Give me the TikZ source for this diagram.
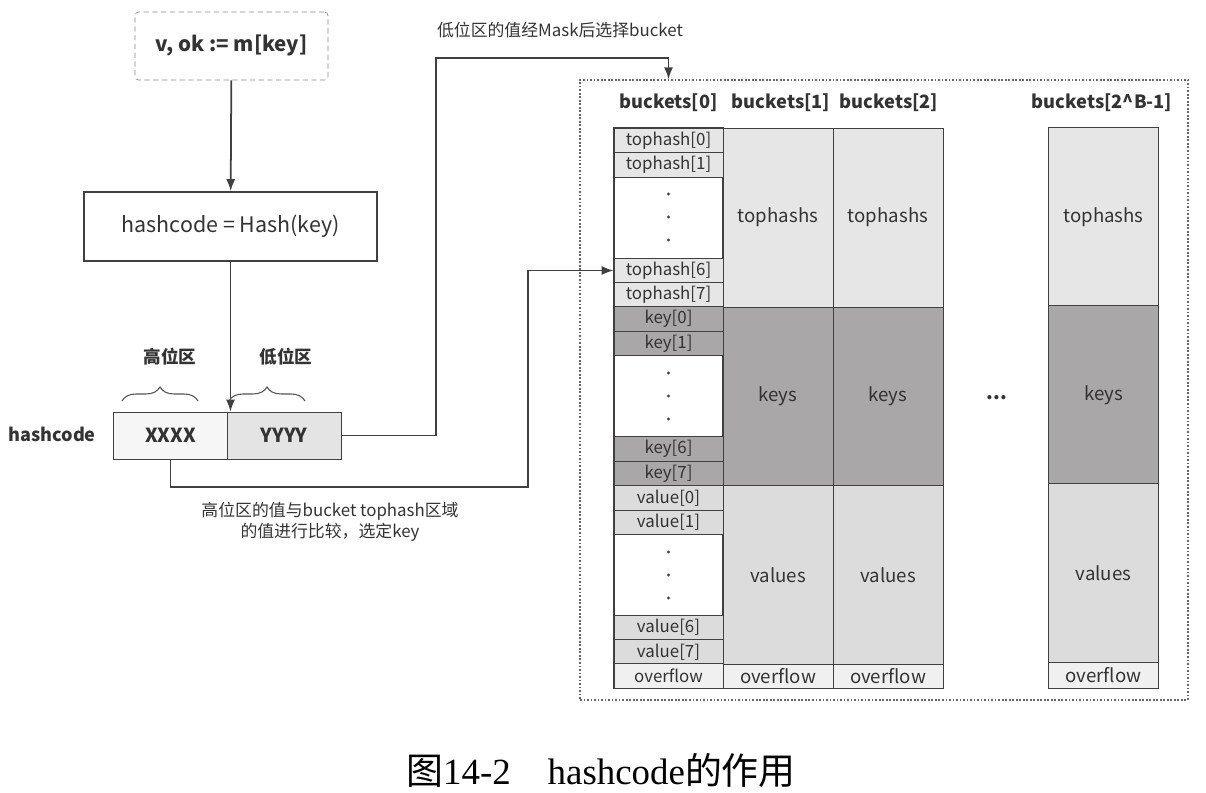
\documentclass[tikz,border=0pt]{standalone}
\usepackage{fontspec}
\setmainfont{Noto Sans CJK SC}
\newfontfamily\capserif{Liberation Serif}
\newfontfamily\capcjk{Noto Sans CJK SC}
\usepackage{xcolor}
\usepackage{tikz}
\usetikzlibrary{arrows.meta,positioning,calc,decorations.pathreplacing}
\definecolor{hcline}{HTML}{404040}
\definecolor{hctext}{HTML}{333333}
\definecolor{hcdash}{HTML}{8A8A8A}
\definecolor{hcth}{HTML}{E6E6E6}
\definecolor{hckey}{HTML}{A9A7A7}
\definecolor{hcval}{HTML}{DCDCDC}
\definecolor{hcof}{HTML}{F0F0F0}
\definecolor{hchigh}{HTML}{F6F6F6}
\definecolor{hclow}{HTML}{E4E4E4}

\begin{document}
\begin{tikzpicture}[
    x=0.02cm,y=-0.02cm,
    text=hctext,
    cell/.style={draw=hcline,fill=#1,minimum width=2.18cm,minimum height=0.49cm,inner sep=0pt,font=\fontsize{9.6}{10}\selectfont},
    part/.style={draw=hcline,fill=#1,minimum width=2.2cm,minimum height=3.58cm,inner sep=0pt,font=\fontsize{10.6}{12}\selectfont},
    ofcell/.style={draw=hcline,fill=hcof,minimum width=2.2cm,minimum height=0.48cm,inner sep=0pt,font=\fontsize{10.6}{12}\selectfont},
    head/.style={font=\bfseries\fontsize{10.4}{12}\selectfont},
    half/.style={draw=hcline,fill=#1,minimum width=2.28cm,minimum height=0.94cm,inner sep=0pt,font=\bfseries\fontsize{11}{12}\selectfont},
    note/.style={font=\fontsize{9.6}{12}\selectfont,align=center},
    arr/.style={-{Latex[length=2.4mm,width=1.8mm]},line width=1pt,draw=hcline},
    brace/.style={decorate,decoration={brace,amplitude=8pt},draw=hcline!90,line width=0.6pt}
  ]
    \useasboundingbox (0,0) rectangle (1206,792);

    % left side: lookup and hash
    \node[draw=hcdash,dash pattern=on 3pt off 2pt,rounded corners=2pt,minimum width=3.86cm,minimum height=1.36cm,font=\bfseries\fontsize{11.7}{13}\selectfont] (query) at (231.5,46) {v, ok := m[key]};
    \node[draw=hcline,line width=0.9pt,minimum width=5.86cm,minimum height=1.38cm,font=\fontsize{12.2}{14}\selectfont] (hash) at (230.5,226.5) {hashcode = Hash(key)};
    \draw[arr] (query) -- (hash);

    \node[half=hchigh] (high) at (170.5,435.5) {XXXX};
    \node[half=hclow] (low) at (284,435.5) {YYYY};
    \node[font=\bfseries\fontsize{10.3}{12}\selectfont] (hclabel) at (52,434) {hashcode};
    \draw[arr] (hash.south) -- (hash.south |- high.north);

    \draw[brace] (122,401) -- (198,401);
    \draw[brace] (229,401) -- (305,401);
    \node[font=\bfseries\fontsize{10}{11}\selectfont] (highlabel) at (170,357) {高位区};
    \node[font=\bfseries\fontsize{10}{11}\selectfont] (lowlabel) at (286,357) {低位区};

    % bucket array
    \node[draw=hcline!80,dash pattern=on 1pt off 1pt,line width=0.8pt,minimum width=12.16cm,minimum height=12.4cm] (store) at (884,390) {};
    \node[head] (head0) at (668.5,103) {buckets[0]};
    \node[head] (head1) at (781,103) {buckets[1]};
    \node[head] (head2) at (889,103) {buckets[2]};
    \node[head] (head3) at (1102,103) {buckets[2\^{}B-1]};

    % buckets[0] in detail
    \node[draw=hcline,line width=1pt,minimum width=2.18cm,minimum height=11.2cm] (col0) at (668.5,408) {};
    \foreach \n/\t/\y/\c in {th0/tophash[0]/140.5/hcth, th1/tophash[1]/165/hcth,
        th6/tophash[6]/270.5/hcth, th7/tophash[7]/295/hcth,
        k0/key[0]/319/hckey, k1/key[1]/343.5/hckey, k6/key[6]/449/hckey, k7/key[7]/473.5/hckey,
        v0/value[0]/498/hcval, v1/value[1]/522.5/hcval, v6/value[6]/627.5/hcval, v7/value[7]/652/hcval,
        of0/overflow/676/hcof}
      \node[cell=\c] (\n) at (668.5,\y) {\t};
    \foreach \y in {194,217,240,373,396,419,552,575,598}
      \fill[hcline] (668.5,\y) circle (0.9pt);

    % buckets[1], buckets[2]
    \foreach \i/\x in {1/778,2/888} {
      \node[part=hcth] (ths\i) at (\x,217.5) {tophashs};
      \node[part=hckey] (keys\i) at (\x,396.5) {keys};
      \node[part=hcval] (vals\i) at (\x,575) {values};
      \node[ofcell] (of\i) at (\x,676) {overflow};
    }
    \node[font=\bfseries\fontsize{11}{12}\selectfont] (gap) at (997,398) {...};

    % buckets[2^B-1]
    \node[part=hcth] (ths3) at (1103.5,217) {tophashs};
    \node[part=hckey] (keys3) at (1103.5,395) {keys};
    \node[part=hcval] (vals3) at (1103.5,573) {values};
    \node[draw=hcline,fill=hcof,minimum width=2.2cm,minimum height=0.52cm,inner sep=0pt,font=\fontsize{10.6}{12}\selectfont] (of3) at (1103.5,675) {overflow};

    % connectors
    \coordinate (maskup) at (436,58);
    \draw[arr] (low.east) -| (maskup) -| (th0 |- store.north);
    \node[note] (masklabel) at (560,30) {低位区的值经Mask后选择bucket};

    \coordinate (cmpturn) at (528,487);
    \draw[arr] (high.south) |- (cmpturn) |- (th6.west);
    \node[note] (cmplabel) at (330,522) {高位区的值与bucket tophash区域\\的值进行比较，选定key};

    \node[text=black] (caption) at (601,770) {\fontsize{21}{24}\selectfont\capcjk 图\capserif 14-2\hspace{1em}hashcode\capcjk 的作用};
  \end{tikzpicture}
\end{document}
